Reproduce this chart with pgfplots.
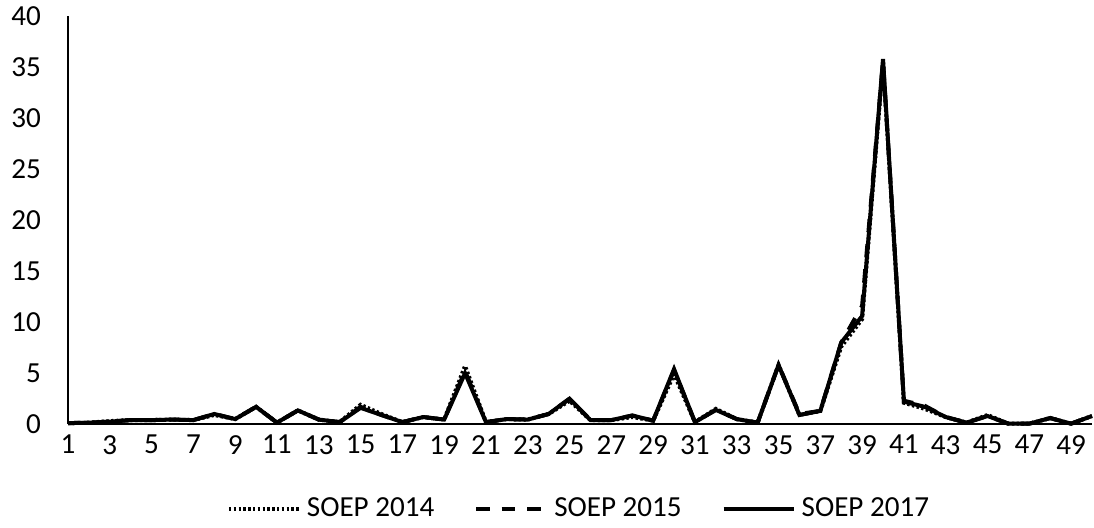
\documentclass[border=0pt]{standalone}
\usepackage{fontspec}
\setmainfont{Carlito}
\usepackage{pgfplots}
\pgfplotsset{compat=1.18}
\usepackage{pgfplotstable}

% x  SOEP2014  SOEP2015  SOEP2017
\pgfplotstableread{
x a b c
1 0.1 0.1 0.1
2 0.15 0.15 0.15
3 0.3 0.25 0.25
4 0.4 0.4 0.4
5 0.4 0.4 0.4
6 0.45 0.45 0.45
7 0.4 0.4 0.4
8 0.9 1.0 1.0
9 0.5 0.5 0.5
10 1.7 1.7 1.7
11 0.15 0.15 0.15
12 1.35 1.35 1.35
13 0.45 0.45 0.45
14 0.2 0.2 0.2
15 1.9 1.7 1.6
16 1.0 0.9 0.9
17 0.2 0.2 0.2
18 0.7 0.7 0.7
19 0.45 0.45 0.45
20 5.7 5.2 5.0
21 0.2 0.2 0.2
22 0.5 0.5 0.5
23 0.45 0.45 0.45
24 1.0 1.0 1.0
25 2.3 2.5 2.5
26 0.4 0.4 0.4
27 0.4 0.4 0.4
28 0.7 0.85 0.85
29 0.35 0.35 0.35
30 4.9 5.3 5.4
31 0.2 0.2 0.2
32 1.5 1.4 1.4
33 0.5 0.5 0.5
34 0.15 0.15 0.15
35 5.8 5.8 5.8
36 0.9 1.0 0.9
37 1.3 1.3 1.3
38 7.6 8.0 8.0
39 10.3 11.6 10.6
40 35.5 35.6 35.8
41 2.1 2.3 2.2
42 1.5 1.8 1.7
43 0.7 0.7 0.7
44 0.15 0.15 0.15
45 0.9 0.8 0.8
46 0.05 0.05 0.05
47 0.05 0.05 0.05
48 0.6 0.6 0.6
49 0.05 0.05 0.05
50 0.8 0.8 0.8
}\soep

\begin{document}
\begin{tikzpicture}
\begin{axis}[
    scale only axis,
    width=512bp,
    height=204bp,
    xmin=1, xmax=50,
    ymin=0, ymax=40,
    xtick={1,3,...,49},
    ytick={0,5,...,40},
    axis x line*=bottom,
    axis y line*=left,
    axis line style={line width=0.75bp, -},
    major tick length=0pt,
    font=\fontsize{14.6}{17}\selectfont,
    /pgf/number format/assume math mode=true,
    yticklabel style={xshift=-10bp},
    xticklabel style={yshift=-2bp},
    legend style={draw=none, at={(0.5,-0.16)}, anchor=north,
        legend columns=-1, font=\fontsize{14.6}{17}\selectfont},
    legend image code/.code={\draw[#1] (0bp,0bp) -- (35bp,0bp);},
    /tikz/every odd column/.append style={column sep=1bp},
    /tikz/every even column/.append style={column sep=18bp},
    clip=false,
    after end axis/.code={\path (rel axis cs:0,0) ++(-34bp,0pt);},
]
\addplot[black, line width=2bp, dash pattern=on 1.2bp off 1.2bp] table[x=x, y=a] {\soep};
\addplot[black, line width=2bp, dash pattern=on 6.7bp off 6bp] table[x=x, y=b] {\soep};
\addplot[black, line width=2bp] table[x=x, y=c] {\soep};
\legend{SOEP 2014, SOEP 2015, SOEP 2017}
\end{axis}
\end{tikzpicture}
\end{document}
